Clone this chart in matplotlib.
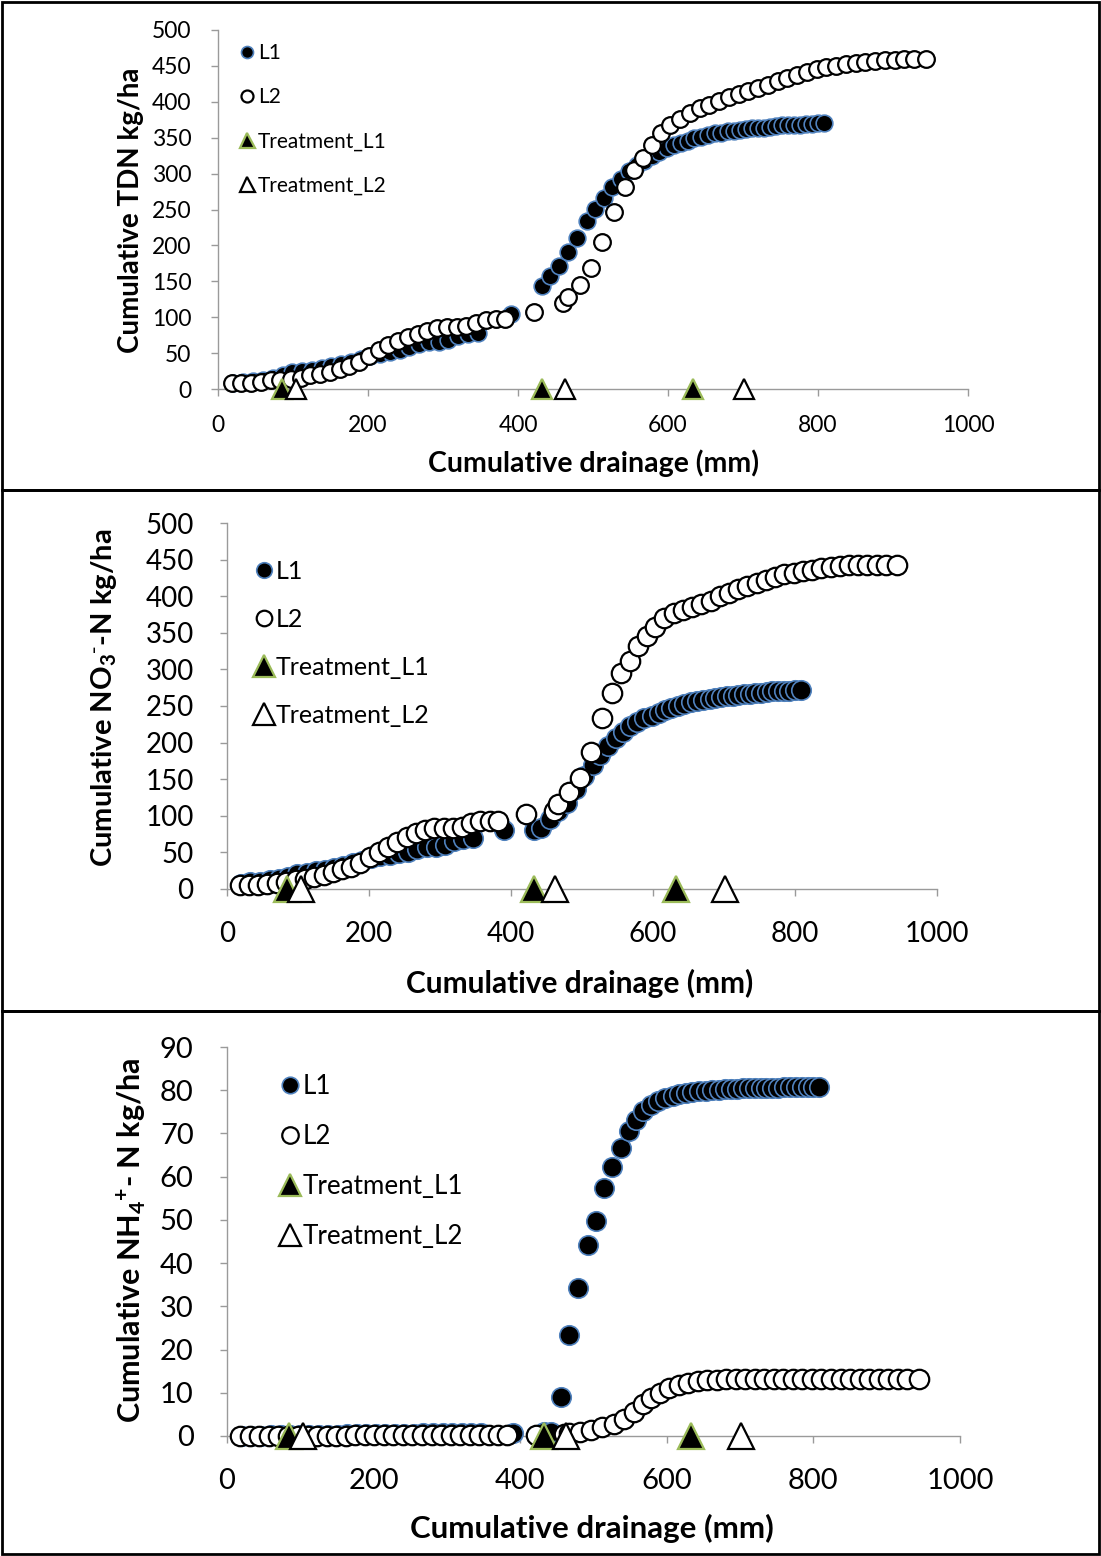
#!/usr/bin/env python3
# -*- coding: utf-8 -*-
import matplotlib
matplotlib.use("Agg")
import matplotlib.pyplot as plt
from matplotlib.patches import Rectangle

#===================================================================================#
## data
# cumulative drainage (mm) of the L1 samples
drain_L1 = [20, 33, 47, 60, 73, 86, 99, 112, 125, 138, 151, 164, 177, 190, 203, 216, 229,
            242, 255, 268, 281, 294, 307, 320, 333, 346, 390,
            432, 442, 455, 466, 479, 492, 503, 515, 525, 537, 548, 558, 568, 578, 588, 598,
            608, 617, 626, 635, 644, 653, 662, 671, 680, 688, 696, 704, 712, 720, 728, 736,
            744, 752, 760, 768, 776, 784, 792, 800, 808]
# cumulative drainage (mm) of the L2 samples
drain_L2 = [18, 31, 44, 57, 70, 83, 97, 110, 123, 136, 149, 162, 175, 188, 201, 214, 227,
            240, 253, 266, 279, 292, 305, 318, 331, 344, 357, 370, 382,
            421,
            460, 466, 482, 497, 512, 528, 542, 555, 567, 579, 591, 603, 616, 629, 642, 655,
            668, 681, 694, 707, 720, 733, 746, 759, 772, 785, 798, 811, 824, 837, 850, 863,
            876, 889, 902, 915, 928, 944]

tdn_L1 = [8, 10, 11, 13, 16, 20, 23, 25, 27, 29, 32, 35, 38, 42, 46, 49, 52, 54, 58, 62,
          65, 66, 68, 74, 76, 78, 104,
          144, 157, 172, 191, 210, 234, 251, 266, 282, 293, 303, 312, 318, 324, 330, 336,
          340, 343, 346, 349, 351, 354, 356, 357, 359, 360, 361, 362, 363, 364, 364, 365,
          366, 367, 367, 368, 368, 369, 369, 370, 370]
tdn_L2 = [8, 9, 9, 10, 12, 13, 14, 16, 19, 21, 24, 28, 32, 38, 46, 55, 61, 67, 72, 77, 81,
          85, 86, 87, 88, 92, 96, 97, 97,
          107,
          120, 128, 145, 168, 205, 246, 282, 305, 322, 340, 356, 367, 376, 384, 391, 396,
          401, 406, 411, 415, 419, 424, 429, 433, 437, 441, 445, 448, 450, 452, 454, 456,
          457, 458, 458, 459, 459, 459]

no3_L1 = [7, 9, 10, 12, 14, 17, 20, 22, 24, 26, 29, 32, 35, 38, 42, 45, 47, 49, 51, 55,
          57, 58, 60, 66, 68, 70, 80,
          80, 84, 95, 106, 117, 137, 155, 170, 183, 196, 206, 215, 222, 228, 233, 237,
          241, 244, 247, 250, 253, 255, 257, 258, 260, 261, 262, 263, 264, 265, 266, 267,
          268, 268, 269, 270, 270, 271, 271, 272, 272]
no3_L2 = [5, 5, 6, 7, 8, 10, 12, 14, 16, 19, 23, 27, 30, 36, 44, 50, 57, 64, 71, 77, 81,
          84, 84, 84, 85, 90, 93, 93, 93,
          102,
          107, 116, 132, 152, 187, 234, 268, 295, 312, 332, 345, 358, 370, 377, 381, 385,
          389, 394, 400, 405, 410, 414, 418, 422, 426, 430, 432, 434, 436, 438, 440, 441,
          442, 442, 442, 442, 442, 442]

nh4_L1 = [0.1, 0.1, 0.1, 0.2, 0.2, 0.2, 0.2, 0.3, 0.3, 0.3, 0.3, 0.4, 0.4, 0.4, 0.4, 0.5,
          0.5, 0.5, 0.5, 0.6, 0.6, 0.6, 0.6, 0.7, 0.7, 0.7, 0.8,
          0.9, 1.0, 9.1, 23.3, 34.3, 44.1, 49.8, 57.3, 62.3, 66.6, 70.6, 73.0, 75.2, 76.6,
          77.5, 78.2, 78.7, 79.1, 79.4, 79.6, 79.8, 79.9, 80.0, 80.1, 80.2, 80.3, 80.3,
          80.4, 80.4, 80.5, 80.5, 80.6, 80.6, 80.6, 80.7, 80.7, 80.7, 80.8, 80.8, 80.8, 80.8]
nh4_L2 = [0.1, 0.1, 0.1, 0.1, 0.1, 0.1, 0.1, 0.1, 0.1, 0.1, 0.1, 0.1, 0.2, 0.2, 0.2, 0.2,
          0.2, 0.2, 0.2, 0.2, 0.2, 0.2, 0.2, 0.2, 0.2, 0.2, 0.3, 0.3, 0.3,
          0.3,
          0.5, 0.6, 1.0, 1.4, 2.0, 2.8, 3.9, 5.6, 7.3, 8.8, 10.0, 11.0, 11.8, 12.3, 12.7,
          12.9, 13.0, 13.1, 13.2, 13.2, 13.2, 13.3, 13.3, 13.3, 13.3, 13.3, 13.3, 13.3,
          13.3, 13.3, 13.3, 13.3, 13.3, 13.3, 13.3, 13.3, 13.3, 13.3]

# drainage at which the treatments were applied
treat_L1 = [85, 432, 633]
treat_L2 = [104, 462, 701]

ylabels = ["Cumulative TDN kg/ha",
           r"Cumulative NO$_3$$^{\text{-}}$-N kg/ha",
           r"Cumulative NH$_4$$^{+}$- N kg/ha"]
xlabel = "Cumulative drainage (mm)"
legend_names = ["L1", "L2", "Treatment_L1", "Treatment_L2"]

#===================================================================================#
## plot parameters
W, H = 1101, 1556
fig_dpi = 100
axis_grey = '#9a9a9a'
blue_edge = '#4f81bd'
green_edge = '#9bbb59'

plt.rcParams['font.family'] = ['Lato', 'DejaVu Sans']
plt.rcParams['mathtext.default'] = 'regular'

def fbox(l, t, r, b):
    # pixel box -> figure fraction [left, bottom, width, height]
    return [l / W, 1 - b / H, (r - l) / W, (b - t) / H]

#===================================================================================#
def Draw_Panel(fig, box, ylab, ymax, ystep, y1, y2, cfg):
    ax = fig.add_axes(fbox(*box))
    ax.plot(drain_L1, y1, 'o', ms=cfg['ms'], mfc='black', mec=blue_edge, mew=1.2,
            label=legend_names[0], zorder=3, clip_on=False)
    ax.plot(drain_L2, y2, 'o', ms=cfg['ms'], mfc='white', mec='black', mew=1.6,
            label=legend_names[1], zorder=4, clip_on=False)
    ax.plot(treat_L1, [0] * len(treat_L1), '^', ms=cfg['tms'], mfc='black', mec=green_edge,
            mew=1.6, label=legend_names[2], zorder=5, clip_on=False)
    ax.plot(treat_L2, [0] * len(treat_L2), '^', ms=cfg['tms'], mfc='white', mec='black',
            mew=1.6, label=legend_names[3], zorder=6, clip_on=False)

    ax.set_xlim(0, 1000)
    ax.set_ylim(0, ymax)
    ax.set_xticks(range(0, 1001, 200))
    ax.set_yticks([v for v in range(0, ymax + 1, ystep)])
    for s in ['top', 'right']:
        ax.spines[s].set_visible(False)
    for s in ['left', 'bottom']:
        ax.spines[s].set_color(axis_grey)
        ax.spines[s].set_linewidth(1.0)
    ax.tick_params(axis='both', direction='out', length=5, width=1.0, color=axis_grey,
                   labelsize=cfg['tick_fs'])
    ax.tick_params(axis='y', pad=cfg['ypad'])
    ax.tick_params(axis='x', pad=cfg['xpad'])

    fig.text(cfg['xlab'][0] / W, 1 - cfg['xlab'][1] / H, xlabel, fontsize=cfg['xlab_fs'],
             fontweight='bold', ha='center', va='center')
    fig.text(cfg['ylab'][0] / W, 1 - cfg['ylab'][1] / H, ylab, fontsize=cfg['ylab_fs'],
             fontweight='bold', ha='center', va='center', rotation=90)

    ax.legend(loc='upper left', bbox_to_anchor=(cfg['leg'][0] / W, 1 - cfg['leg'][1] / H),
              bbox_transform=fig.transFigure, frameon=False, fontsize=cfg['leg_fs'],
              handlelength=0.6, handletextpad=0.2, labelspacing=cfg['leg_sp'],
              borderpad=0, borderaxespad=0, markerscale=cfg['mscale'], numpoints=1)
    return ax

#===================================================================================#
def main():
    fig = plt.figure(figsize=(W / fig_dpi, H / fig_dpi), dpi=fig_dpi)

    # panel frames
    for t, b in [(2, 490), (490, 1011), (1011, 1554)]:
        fig.add_artist(Rectangle((2 / W, 1 - b / H), 1097 / W, (b - t) / H,
                                 transform=fig.transFigure, fill=False, lw=2.0,
                                 ec='black'))

    cfg1 = dict(ms=12, tms=15, tick_fs=16.5, xlab_fs=20.5, ylab_fs=20, leg_fs=15,
                ypad=14, xpad=14, xlab=(593, 463), ylab=(131, 210), leg=(241, 43),
                leg_sp=1.16, mscale=0.72)
    cfg2 = dict(ms=14, tms=19, tick_fs=20, xlab_fs=21.5, ylab_fs=21, leg_fs=18,
                ypad=19, xpad=18, xlab=(580, 983), ylab=(104, 698), leg=(256, 560),
                leg_sp=1.0, mscale=0.8)
    cfg3 = dict(ms=14, tms=19, tick_fs=21, xlab_fs=22.5, ylab_fs=22, leg_fs=18.7,
                ypad=19, xpad=18, xlab=(592, 1528), ylab=(131, 1240), leg=(282, 1074),
                leg_sp=0.96, mscale=0.85)

    Draw_Panel(fig, (218, 30, 968, 389), ylabels[0], 500, 50, tdn_L1, tdn_L2, cfg1)
    Draw_Panel(fig, (227, 523, 937, 889), ylabels[1], 500, 50, no3_L1, no3_L2, cfg2)
    Draw_Panel(fig, (227, 1047, 960, 1436), ylabels[2], 90, 10, nh4_L1, nh4_L2, cfg3)

    plt.savefig("out.png", dpi=fig_dpi)
    plt.close(fig)

#===================================================================================#
if __name__ == '__main__':
    main()
